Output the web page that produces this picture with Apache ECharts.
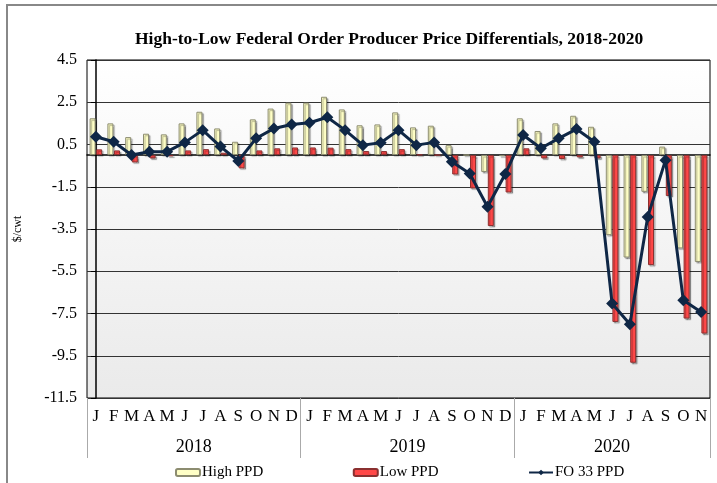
<!doctype html>
<html lang="en-US">

<head>
    <meta charset="utf-8" />
    <title>High-to-Low Federal Order Producer Price Differentials</title>
    <script type="text/javascript" src="https://cdn.jsdelivr.net/npm/echarts@6.0.0/dist/echarts.min.js"></script>
    <style>
        html, body { margin: 0; padding: 0; background: #fff; }
        #chart { width: 717px; height: 483px; }
    </style>
</head>

<body>
    <div id="chart"></div>
</body>

<script type="text/javascript">
    // month letters, 2018-01 .. 2020-11
    let months = ['J', 'F', 'M', 'A', 'M', 'J', 'J', 'A', 'S', 'O', 'N', 'D',
        'J', 'F', 'M', 'A', 'M', 'J', 'J', 'A', 'S', 'O', 'N', 'D',
        'J', 'F', 'M', 'A', 'M', 'J', 'J', 'A', 'S', 'O', 'N'];
    let years = ['2018', '2019', '2020'];
    let year_centers = [5.5, 17.5, 29];
    let year_bounds = [-0.5, 11.5, 23.5, 34.5];

    let high_ppd = [1.74, 1.50, 0.85, 1.01, 0.98, 1.50, 2.05, 1.26, 0.63, 1.69, 2.20, 2.48,
        2.48, 2.76, 2.16, 1.41, 1.45, 2.02, 1.31, 1.39, 0.47, 0.00, -0.80, -0.05,
        1.74, 1.14, 1.50, 1.86, 1.34, -3.79, -4.85, -1.74, 0.40, -4.42, -5.06];
    let low_ppd = [0.27, 0.22, -0.35, -0.16, -0.06, 0.22, 0.28, 0.11, -0.63, 0.22, 0.32, 0.36,
        0.36, 0.35, 0.28, 0.19, 0.19, 0.28, 0.02, 0.00, -0.92, -1.58, -3.36, -1.77,
        0.32, -0.16, -0.19, -0.11, -0.16, -7.90, -9.83, -5.21, -1.94, -7.74, -8.45];
    let fo33_ppd = [0.87, 0.63, 0.00, 0.16, 0.16, 0.60, 1.18, 0.40, -0.28, 0.79, 1.26, 1.45,
        1.53, 1.79, 1.18, 0.47, 0.58, 1.18, 0.47, 0.60, -0.32, -0.87, -2.45, -0.90,
        0.95, 0.32, 0.79, 1.23, 0.63, -7.03, -8.01, -2.93, -0.24, -6.87, -7.43];

    let serif = 'Liberation Serif';
    let myChart = echarts.init(document.getElementById('chart'), null, { renderer: 'canvas' });

    let bar_shadow = {
        shadowColor: 'rgba(0,0,0,0.3)',
        shadowOffsetX: 1.5,
        shadowOffsetY: 1.5,
        shadowBlur: 1
    };

    let option = {
        animation: false,
        backgroundColor: '#fff',
        textStyle: { fontFamily: serif, color: '#000' },
        title: {
            text: 'High-to-Low Federal Order Producer Price Differentials, 2018-2020',
            left: 130,
            top: 25,
            textStyle: { fontFamily: serif, fontSize: 17.5, fontWeight: 'bold', color: '#000' }
        },
        graphic: [{
            type: 'rect',
            silent: true,
            shape: { x: 7, y: 5, width: 730, height: 500 },
            style: { fill: 'none', stroke: '#888', lineWidth: 2 }
        }],
        legend: {
            left: 170,
            top: 460,
            itemGap: 89.5,
            itemWidth: 24,
            itemHeight: 7,
            data: ['High PPD', 'Low PPD', 'FO 33 PPD'],
            textStyle: { fontFamily: serif, fontSize: 15, color: '#000', padding: [0, 0, 0, -3] }
        },
        grid: {
            left: 87,
            right: 7,
            top: 60,
            bottom: 85,
            show: true,
            borderColor: '#000',
            borderWidth: 1,
            backgroundColor: new echarts.graphic.LinearGradient(0, 0, 0, 1, [
                { offset: 0, color: '#ffffff' },
                { offset: 1, color: '#eaeaea' }
            ])
        },
        xAxis: [{
            type: 'category',
            data: months,
            axisLine: { show: true, lineStyle: { color: '#000', width: 1.5 } },
            axisTick: { show: false },
            axisLabel: { fontFamily: serif, fontSize: 17, color: '#000', margin: 10, interval: 0 }
        }, {
            type: 'value',
            position: 'bottom',
            min: -0.5,
            max: 34.5,
            axisLine: { show: false },
            splitLine: { show: false },
            axisTick: {
                show: true,
                length: 60,
                customValues: year_bounds,
                lineStyle: { color: '#aaa', width: 1 }
            },
            axisLabel: {
                customValues: year_centers,
                fontFamily: serif,
                fontSize: 18,
                color: '#000',
                margin: 40,
                formatter: function (v) {
                    let i = year_centers.indexOf(v);
                    return i >= 0 ? years[i] : '';
                }
            }
        }],
        yAxis: {
            type: 'value',
            min: -11.5,
            max: 4.5,
            interval: 2,
            name: '$/cwt',
            nameLocation: 'middle',
            nameRotate: 90,
            nameGap: 63,
            nameTextStyle: { fontFamily: serif, fontSize: 12, color: '#000' },
            axisLine: { show: true, lineStyle: { color: '#000', width: 1.5 } },
            axisTick: { show: true, length: 5, lineStyle: { color: '#000' } },
            axisLabel: { fontFamily: serif, fontSize: 16, color: '#000', margin: 10 },
            splitLine: { lineStyle: { color: '#333', width: 1 } }
        },
        series: [{
            name: 'High PPD',
            type: 'bar',
            data: high_ppd,
            barWidth: 6,
            barGap: '10%',
            itemStyle: Object.assign({ color: '#ffffc6', borderColor: '#8c8c70', borderWidth: 1 }, bar_shadow)
        }, {
            name: 'Low PPD',
            type: 'bar',
            data: low_ppd,
            barWidth: 6,
            itemStyle: Object.assign({ color: '#ff4848', borderColor: '#8a3030', borderWidth: 1 }, bar_shadow)
        }, {
            name: 'FO 33 PPD',
            type: 'line',
            data: fo33_ppd,
            symbol: 'diamond',
            symbolSize: 12,
            lineStyle: { color: '#0f2746', width: 3 },
            itemStyle: { color: '#0f2746' },
            z: 5
        }]
    };

    myChart.setOption(option);
</script>

</html>
